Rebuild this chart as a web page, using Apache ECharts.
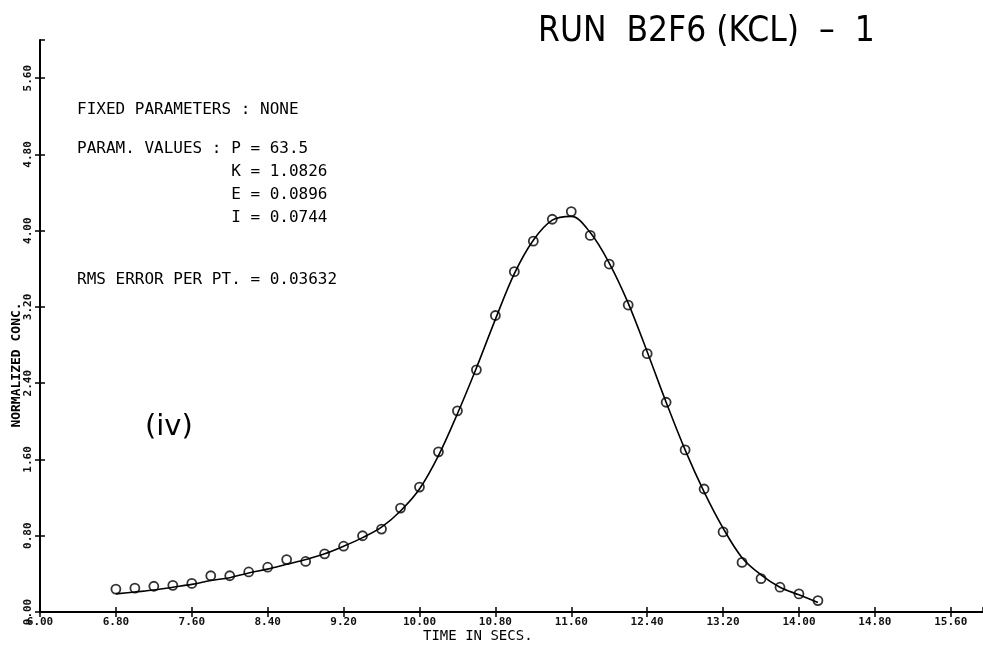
<!DOCTYPE html>
<html>
<head>
<meta charset="utf-8">
<script src="https://cdn.jsdelivr.net/npm/echarts@6/dist/echarts.min.js"></script>
<style>
  html, body { margin: 0; padding: 0; background: #fff; }
  #chart { width: 983px; height: 646px; }
</style>
</head>
<body>
<div id="chart"></div>
<script>
// ---- data ----
const titleText = 'RUN  B2F6 (KCL)  \u2013  1';
const xAxisName = 'TIME IN SECS.';
const yAxisName = 'NORMALIZED CONC.';

const measuredTime = [6.8, 7.0, 7.2, 7.4, 7.6, 7.8, 8.0, 8.2, 8.4, 8.6, 8.8, 9.0, 9.2, 9.4, 9.6, 9.8,
  10.0, 10.2, 10.4, 10.6, 10.8, 11.0, 11.2, 11.4, 11.6, 11.8,
  12.0, 12.2, 12.4, 12.6, 12.8, 13.0, 13.2, 13.4, 13.6, 13.8, 14.0, 14.2];
const measuredConc = [0.24, 0.25, 0.27, 0.28, 0.30, 0.38, 0.38, 0.42, 0.47, 0.55, 0.53, 0.61, 0.69, 0.80, 0.87, 1.09,
  1.31, 1.68, 2.11, 2.54, 3.11, 3.57, 3.89, 4.12, 4.20, 3.95,
  3.65, 3.22, 2.71, 2.20, 1.70, 1.29, 0.84, 0.52, 0.35, 0.26, 0.19, 0.12];

const fitTime = [6.8, 7.0, 7.2, 7.4, 7.6, 7.8, 8.0, 8.2, 8.4, 8.6, 8.8, 9.0, 9.2, 9.4, 9.6, 9.8,
  10.0, 10.2, 10.4, 10.6, 10.8, 11.0, 11.2, 11.4, 11.6, 11.8,
  12.0, 12.2, 12.4, 12.6, 12.8, 13.0, 13.2, 13.4, 13.6, 13.8, 14.0, 14.2];
const fitConc = [0.19, 0.21, 0.23, 0.26, 0.29, 0.33, 0.36, 0.41, 0.45, 0.50, 0.55, 0.61, 0.69, 0.78, 0.89, 1.06,
  1.29, 1.64, 2.08, 2.56, 3.07, 3.55, 3.90, 4.11, 4.15, 3.98,
  3.66, 3.24, 2.73, 2.20, 1.70, 1.26, 0.88, 0.57, 0.39, 0.26, 0.18, 0.10];

const annotationLines = [
  'FIXED PARAMETERS : NONE',
  'PARAM. VALUES : P = 63.5',
  '                K = 1.0826',
  '                E = 0.0896',
  '                I = 0.0744',
  'RMS ERROR PER PT. = 0.03632'
];
const panelLabel = '(iv)';

// ---- chart ----
const chart = echarts.init(document.getElementById('chart'), null, { renderer: 'canvas' });
const mono = "'DejaVu Sans Mono', 'Liberation Mono', monospace";
const axisLineStyle = { color: '#000', width: 2 };

const xBase = {
  type: 'value', min: 6.0, max: 15.94, interval: 0.8,
  position: 'bottom', splitLine: { show: false }
};
const yBase = {
  type: 'value', min: 0, max: 6.0, interval: 0.8,
  position: 'left', splitLine: { show: false }
};

const fitData = fitTime.map((t, i) => [t, fitConc[i]]);
const measData = measuredTime.map((t, i) => [t, measuredConc[i]]);

const annY = [111, 150, 173, 196, 219, 281];

const option = {
  backgroundColor: '#ffffff',
  animation: false,
  grid: { left: 40, right: 0, top: 40, bottom: 34, containLabel: false },
  xAxis: [
    Object.assign({}, xBase, {
      axisLine: { lineStyle: axisLineStyle },
      axisTick: { length: 5, lineStyle: { color: '#000', width: 1.5 } },
      axisLabel: {
        showMaxLabel: false, margin: 5, color: '#111', fontFamily: mono, fontSize: 11, fontWeight: 'bold',
        formatter: v => v.toFixed(2)
      }
    }),
    Object.assign({}, xBase, {
      axisLine: { show: false },
      axisTick: { inside: true, length: 5, lineStyle: { color: '#000', width: 1.5 } },
      axisLabel: { show: false }
    })
  ],
  yAxis: [
    Object.assign({}, yBase, {
      axisLine: { lineStyle: axisLineStyle },
      axisTick: { length: 5, lineStyle: { color: '#000', width: 1.5 } },
      axisLabel: {
        showMaxLabel: false, rotate: 90, margin: 6, color: '#111', fontFamily: mono, fontSize: 11, fontWeight: 'bold',
        formatter: v => v.toFixed(2)
      }
    }),
    Object.assign({}, yBase, {
      axisLine: { show: false },
      axisTick: { inside: true, length: 5, lineStyle: { color: '#000', width: 1.5 } },
      axisLabel: { show: false }
    })
  ],
  series: [
    {
      name: 'fit', type: 'line', xAxisIndex: 0, yAxisIndex: 0,
      data: fitData, smooth: 0.35, showSymbol: false,
      lineStyle: { color: '#000', width: 1.6 }
    },
    {
      name: 'measured', type: 'scatter', xAxisIndex: 0, yAxisIndex: 0,
      data: measData, symbol: 'circle', symbolSize: 9,
      itemStyle: { color: 'rgba(255,255,255,0)', borderColor: '#000', borderWidth: 1.8 }
    }
  ],
  graphic: [
    {
      type: 'text', left: 538, top: 14,
      style: { text: titleText, fill: '#000', font: "normal 35px 'Liberation Sans Narrow', 'DejaVu Sans Condensed', sans-serif" }
    },
    {
      type: 'text', left: 423, top: 629,
      style: { text: xAxisName, fill: '#000', font: "normal 14px " + mono }
    },
    {
      type: 'text', x: 17, y: 365, rotation: Math.PI / 2,
      style: { text: yAxisName, fill: '#000', font: "bold 13px " + mono, textAlign: 'center', textVerticalAlign: 'middle' }
    },
    {
      type: 'text', left: 145, top: 413,
      style: { text: panelLabel, fill: '#000', font: "normal 29px 'DejaVu Sans', sans-serif" }
    }
  ].concat(annotationLines.map((s, i) => ({
    type: 'text', left: 77, top: annY[i] - 9,
    style: { text: s, fill: '#000', font: "normal 16px " + mono }
  })))
};
chart.setOption(option);
</script>
</body>
</html>
